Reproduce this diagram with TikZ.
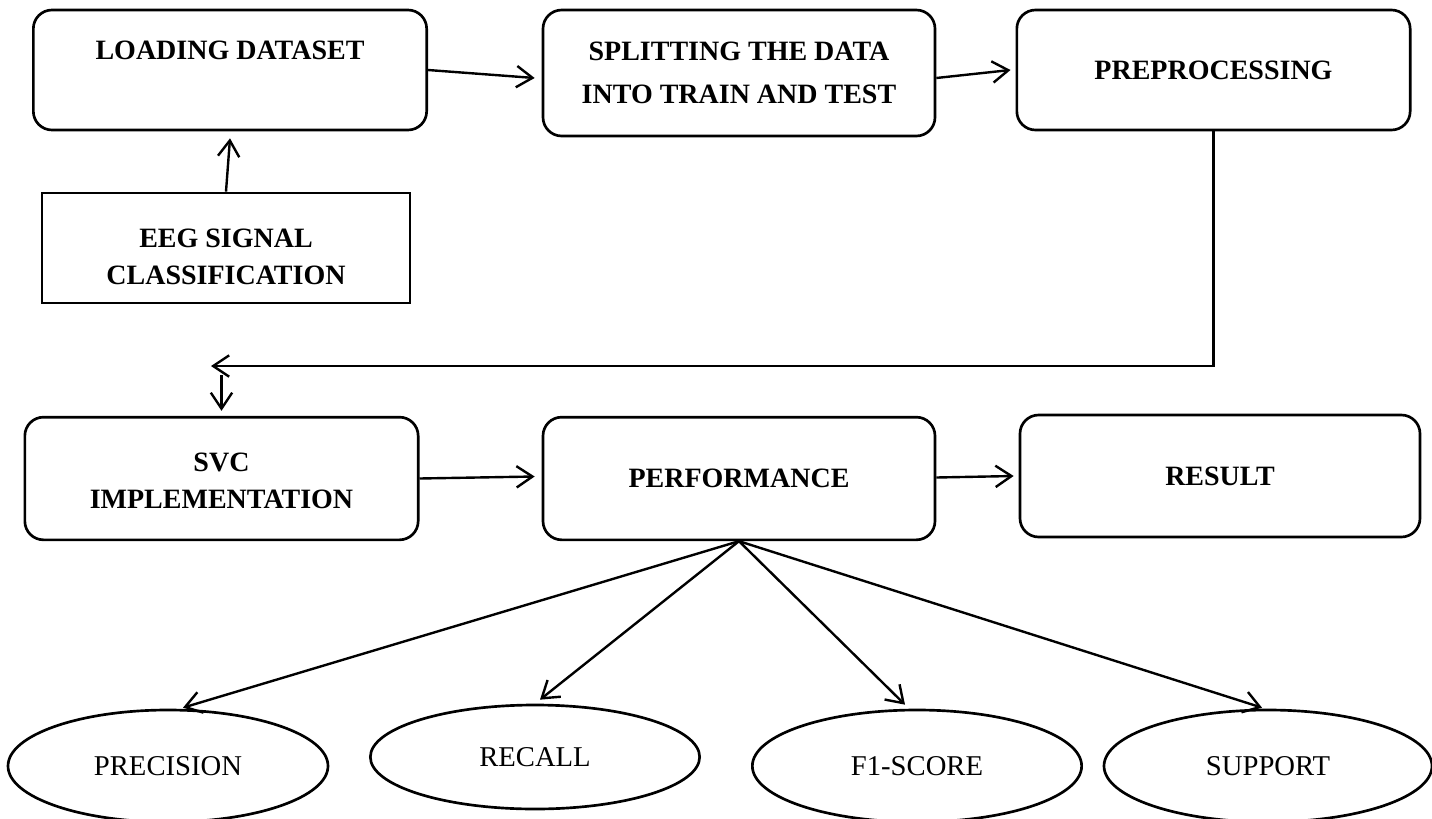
\documentclass[tikz,border=0pt]{standalone}
\usepackage{fontspec}
\setmainfont{Liberation Serif}
\usetikzlibrary{shapes.geometric,arrows.meta,calc}
\begin{document}
\begin{tikzpicture}[x=0.75pt,y=-0.75pt,
  every node/.style={inner sep=0pt},
  btext/.style={align=center,font=\fontsize{21}{28}\selectfont\bfseries},
  box/.style={draw,line width=2pt,rounded corners=14pt,btext},
  sbox/.style={draw,line width=2pt,btext},
  oval/.style={draw,ellipse,line width=2pt,
    font=\fontsize{21.5}{26}\selectfont},
  conn/.style={line width=1.8pt,-{Straight Barb[length=12pt,width=16pt,line width=1.8pt]}}]
\useasboundingbox (0,0) rectangle (1432,818);

\node[box,minimum width=295pt,minimum height=90pt] (load) at (230,70) {LOADING DATASET\\[2pt]\mbox{}};
\node[box,minimum width=294pt,minimum height=94.5pt,font=\fontsize{21}{32}\selectfont\bfseries] (split) at (739,73) {SPLITTING THE DATA\\INTO TRAIN AND TEST};
\node[box,minimum width=295pt,minimum height=90pt] (pre) at (1213.5,70) {PREPROCESSING};
\node[sbox,minimum width=276pt,minimum height=82.5pt] (eeg) at (226,248) {};
\node[btext] (eegt) at (226,257) {EEG SIGNAL\\CLASSIFICATION};
\node[box,minimum width=295pt,minimum height=92pt] (svc) at (221.5,478.5) {};
\node[btext] (svct) at (221.5,481) {SVC\\IMPLEMENTATION};
\node[box,minimum width=294pt,minimum height=92pt] (perf) at (739,478.5) {\raisebox{-1.5pt}{PERFORMANCE}};
\node[box,minimum width=300pt,minimum height=91.5pt] (res) at (1220,476) {\raisebox{-2pt}{RESULT}};

\node[oval,minimum width=240pt,minimum height=84pt] (prec) at (168,766) {PRECISION};
\node[oval,minimum width=247pt,minimum height=78pt] (rec) at (535,757) {RECALL};
\node[oval,minimum width=247pt,minimum height=84pt] (f1) at (917,766) {F1-SCORE};
\node[oval,minimum width=246pt,minimum height=84pt] (sup) at (1268,766) {SUPPORT};

\coordinate (c2) at (211,366);
\coordinate (c3) at (221.5,375);

\draw[conn] (load.east) -- ($(split.west)+(-7,5)$);
\draw[conn] ($(split.east)+(0,5)$) -- ($(pre.west)+(-5,0)$);
\draw[conn] (eeg.north) -- ($(load.south)+(0,7)$);
\draw[conn] (pre.south) |- (c2);
\draw[conn] (c3) -- ($(svc.north)+(0,-5)$);
\draw[conn] (svc.east) -- ($(perf.west)+(-7,-2)$);
\draw[conn] ($(perf.east)+(0,-1)$) -- ($(res.west)+(-5,0)$);
\draw[conn] (perf.south) -- ($(prec.north)+(15,-1)$);
\draw[conn] (perf.south) -- ($(rec.north)+(5,-4)$);
\draw[conn] (perf.south) -- ($(f1.north)+(-12,-4)$);
\draw[conn] (perf.south) -- ($(sup.north)+(-6,-1)$);
\end{tikzpicture}
\end{document}
